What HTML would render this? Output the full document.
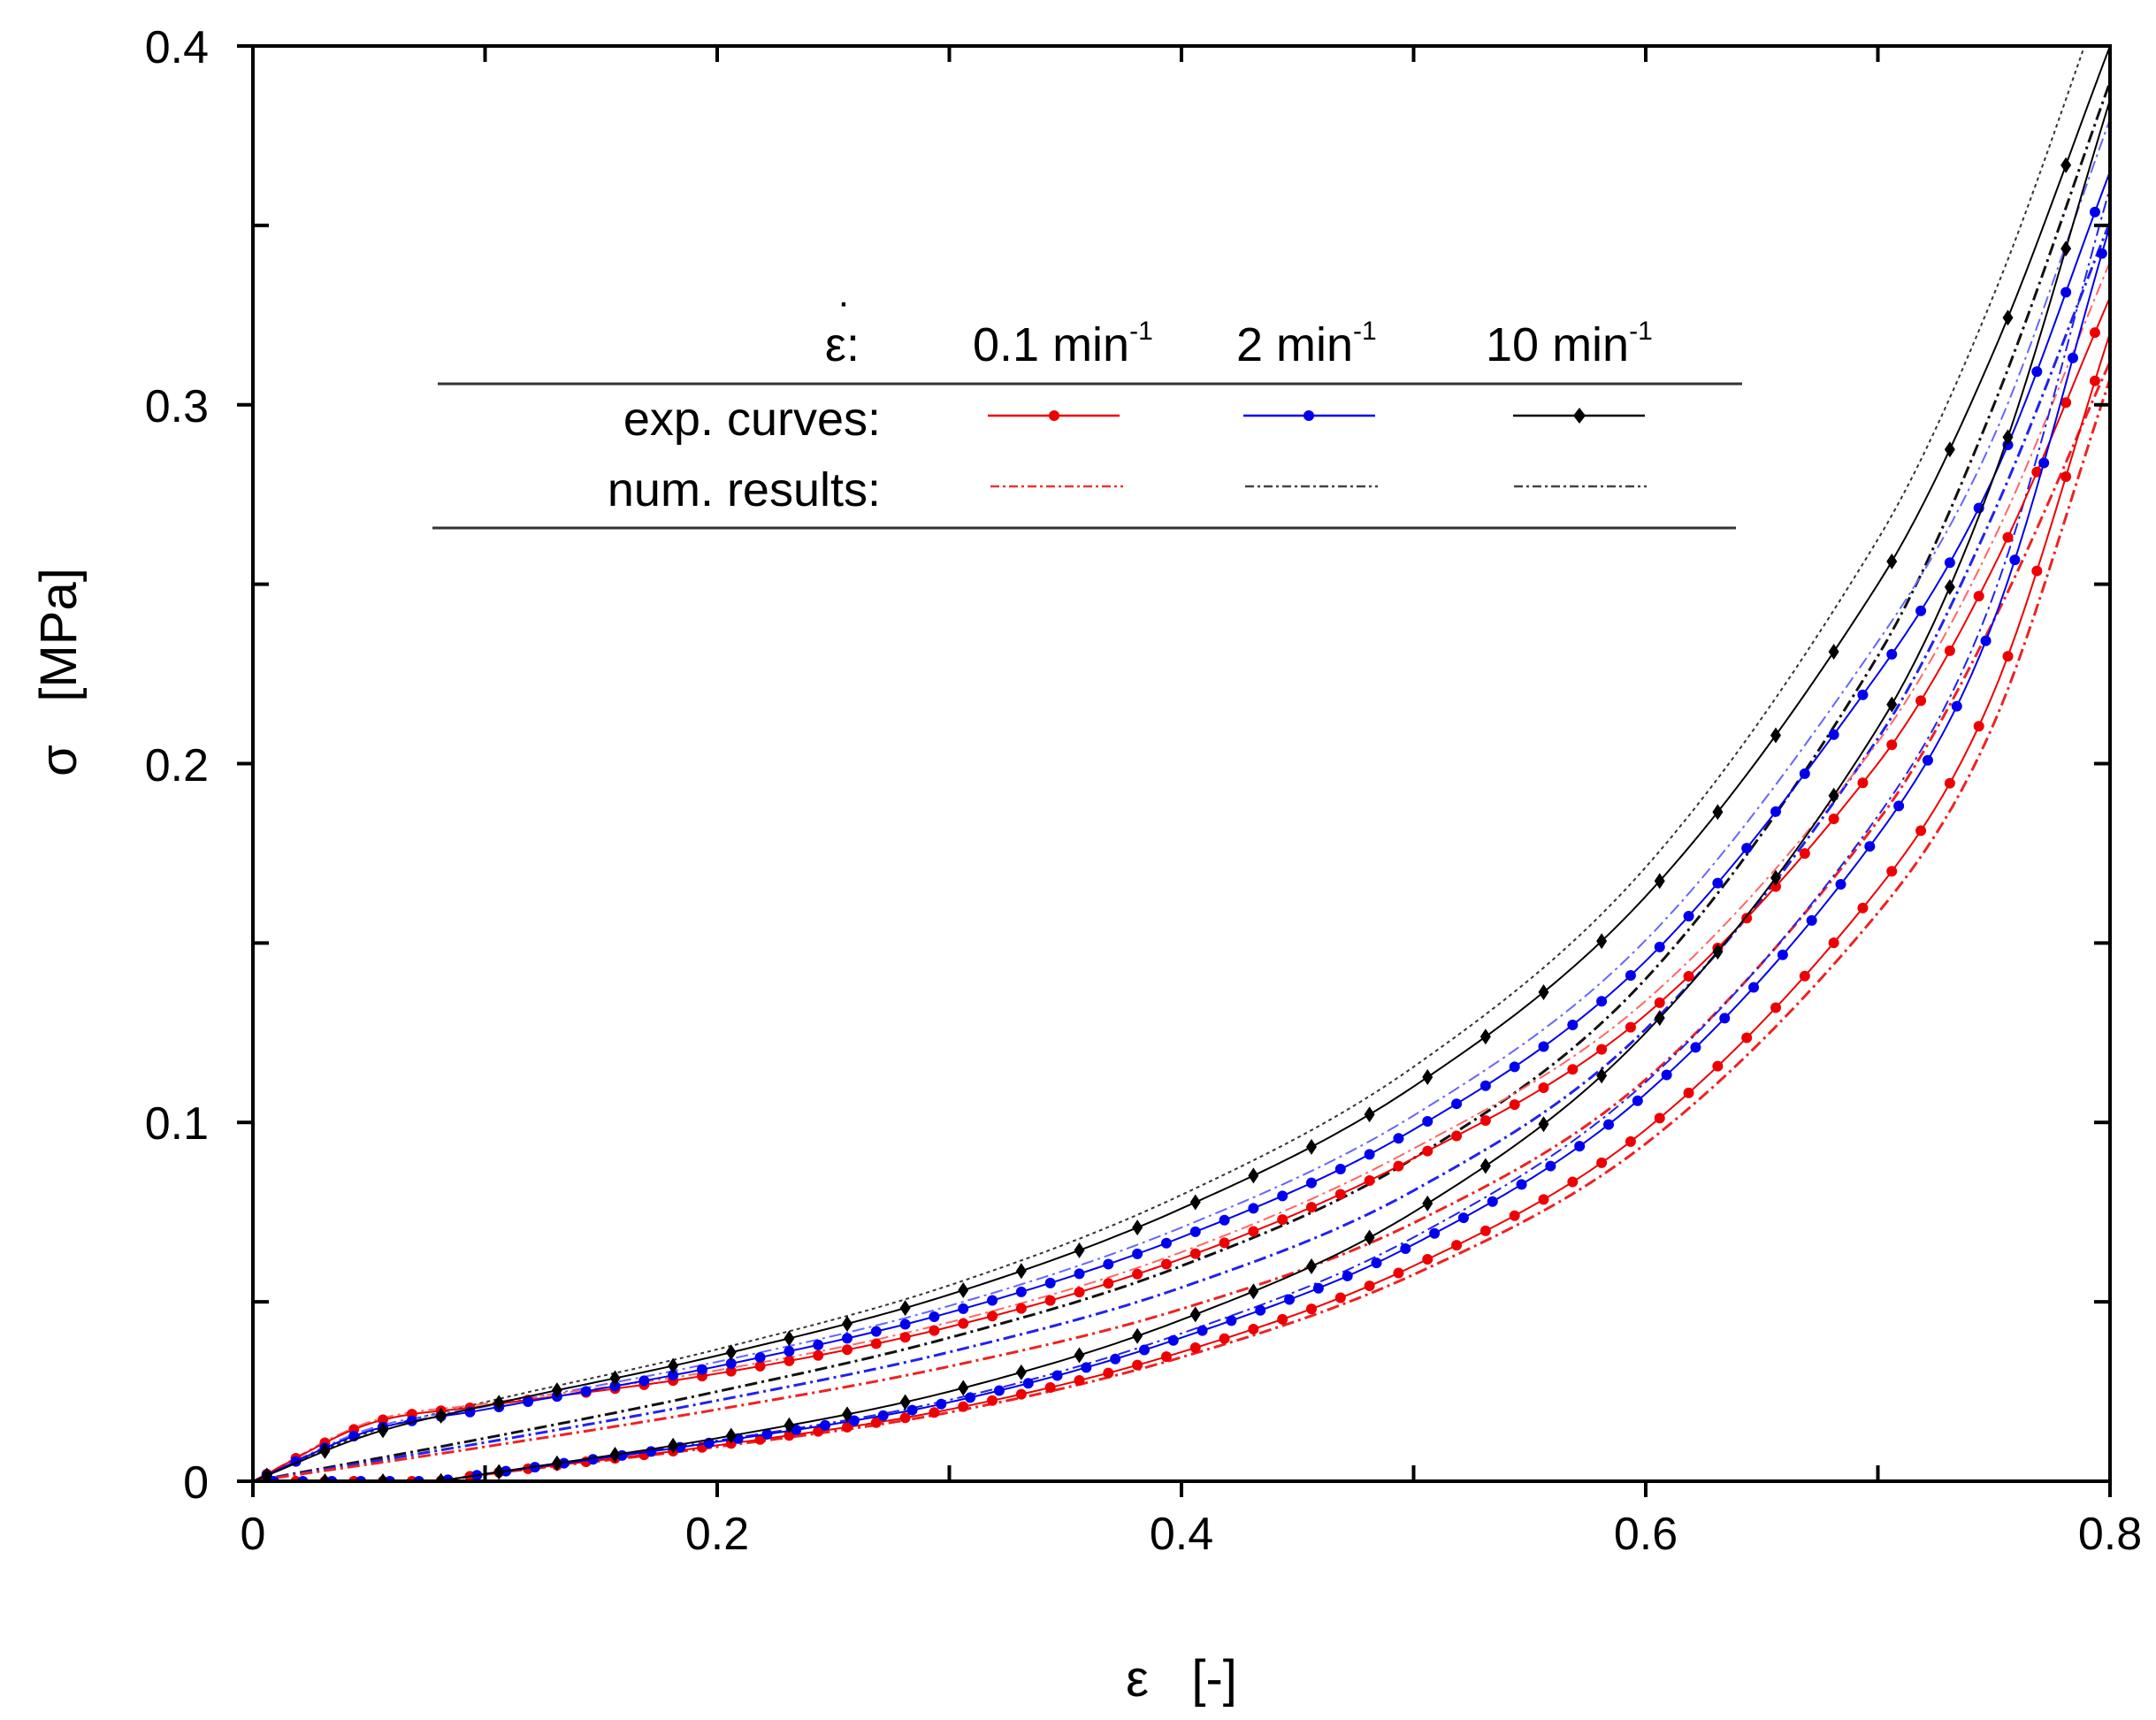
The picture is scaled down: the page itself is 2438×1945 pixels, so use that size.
<!DOCTYPE html>
<html><head><meta charset="utf-8"><style>
html,body{margin:0;padding:0;background:#fff}
svg{display:block}
text{font-family:"Liberation Sans",sans-serif;fill:#000}
</style></head><body>
<svg id="s" width="2438" height="1945" viewBox="0 0 2438 1945" xmlns="http://www.w3.org/2000/svg">
<defs><clipPath id="cp"><rect x="286" y="52" width="2100" height="1623"/></clipPath></defs>
<g id="curves" clip-path="url(#cp)"></g>
<rect x="286" y="52" width="2100" height="1623" fill="none" stroke="#000" stroke-width="4"/>
<g stroke="#000" stroke-width="4" id="ticks"></g>
<g font-size="52" text-anchor="middle">
<text x="286" y="1752">0</text><text x="811" y="1752">0.2</text><text x="1336" y="1752">0.4</text><text x="1861" y="1752">0.6</text><text x="2386" y="1752">0.8</text>
</g>
<g font-size="52" text-anchor="end">
<text x="236" y="1694">0</text><text x="236" y="1288">0.1</text><text x="236" y="883">0.2</text><text x="236" y="477">0.3</text><text x="236" y="71">0.4</text>
</g>
<text x="1336" y="1918" font-size="58" text-anchor="middle">ε&#160;&#160;&#160;[-]</text>
<text transform="translate(86,760) rotate(-90)" font-size="58" text-anchor="middle">σ&#160;&#160;&#160;[MPa]</text>
<!-- legend -->
<g font-size="54">
<text x="972" y="408" text-anchor="end">ε:</text>
<text x="954" y="356" font-size="44" text-anchor="middle">·</text>
<text x="1100" y="408">0.1 min<tspan font-size="30" dy="-24">-1</tspan></text>
<text x="1398" y="408">2 min<tspan font-size="30" dy="-24">-1</tspan></text>
<text x="1680" y="408">10 min<tspan font-size="30" dy="-24">-1</tspan></text>
<text x="996" y="492" text-anchor="end">exp. curves:</text>
<text x="996" y="572" text-anchor="end">num. results:</text>
</g>
<line x1="495" y1="434" x2="1970" y2="434" stroke="#333" stroke-width="3"/>
<line x1="489" y1="597" x2="1963" y2="597" stroke="#333" stroke-width="3"/>
<g stroke-width="2.5">
<line x1="1117" y1="470" x2="1266" y2="470" stroke="#e00"/><circle cx="1192" cy="470" r="6" fill="#e00"/>
<line x1="1406" y1="470" x2="1555" y2="470" stroke="#00e"/><circle cx="1480" cy="470" r="6" fill="#00e"/>
<line x1="1711" y1="470" x2="1860" y2="470" stroke="#000"/><path d="M1786 461 L1793 470 L1786 479 L1779 470Z" fill="#000"/>
<line x1="1120" y1="550" x2="1270" y2="550" stroke="#e33" stroke-dasharray="10 4 3 4"/>
<line x1="1408" y1="550" x2="1558" y2="550" stroke="#444" stroke-dasharray="10 4 3 4"/>
<line x1="1712" y1="550" x2="1862" y2="550" stroke="#444" stroke-dasharray="10 4 3 4"/>
</g>
</svg>
<script>
var NS="http://www.w3.org/2000/svg";
function X(e){return 286+e*2625}
function Y(s){return 1675-s*4057.5}
var tk=document.getElementById("ticks");
function ln(x1,y1,x2,y2,p){var l=document.createElementNS(NS,"line");l.setAttribute("x1",x1);l.setAttribute("y1",y1);l.setAttribute("x2",x2);l.setAttribute("y2",y2);p.appendChild(l);}
for(var i=0;i<=8;i++){var x=X(i*0.1);ln(x,1675,x,i%2?1657:1693,tk);ln(x,52,x,70,tk);}
for(var i=0;i<=8;i++){var y=Y(i*0.05);ln(i%2?286:268,y,i%2?304:286,y,tk);ln(2386,y,2368,y,tk);}
function interp(pts,x){
 for(var i=0;i<pts.length-1;i++){var a=pts[i],b=pts[i+1];if(x<=b[0]){
  var h=b[0]-a[0],t=(x-a[0])/h;
  var m0=i>0?(b[1]-pts[i-1][1])/(b[0]-pts[i-1][0]):(b[1]-a[1])/h;
  var m1=i<pts.length-2?(pts[i+2][1]-a[1])/(pts[i+2][0]-a[0]):(b[1]-a[1])/h;
  var t2=t*t,t3=t2*t;
  return (2*t3-3*t2+1)*a[1]+(t3-2*t2+t)*h*m0+(-2*t3+3*t2)*b[1]+(t3-t2)*h*m1;}}
 return pts[pts.length-1][1];}
var g=document.getElementById("curves");
function curve(pts,color,dash,w,marker,startMarkers){
 var x0=pts[0][0],d="";
 for(var e=x0;e<=0.8001;e+=0.004){d+=(d?"L":"M")+X(e).toFixed(1)+" "+Y(interp(pts,e)).toFixed(1);}
 var p=document.createElementNS(NS,"path");p.setAttribute("d",d);p.setAttribute("fill","none");p.setAttribute("stroke",color);p.setAttribute("stroke-width",w);if(dash)p.setAttribute("stroke-dasharray",dash);g.appendChild(p);
 if(marker){var s0=startMarkers!==undefined?startMarkers:x0;
  for(var e=s0+0.006;e<=0.8;e+=(marker=="d"?0.025:0.0125)){var cx=X(e),cy=Y(e<x0?0:interp(pts,e));
  var m;if(marker=="d"){m=document.createElementNS(NS,"path");m.setAttribute("d","M"+cx+" "+(cy-9)+"L"+(cx+6)+" "+cy+"L"+cx+" "+(cy+9)+"L"+(cx-6)+" "+cy+"Z");}
  else{m=document.createElementNS(NS,"circle");m.setAttribute("cx",cx);m.setAttribute("cy",cy);m.setAttribute("r",6);}
  m.setAttribute("fill",color);g.appendChild(m);}}
}
var bu=[[0,0],[0.05,0.013],[0.1,0.021],[0.2,0.035],[0.3,0.052],[0.4,0.076],[0.5,0.11],[0.6,0.163],[0.7,0.25],[0.75,0.315],[0.8,0.40]];
var bl=[[0.08,0],[0.1,0.002],[0.2,0.012],[0.3,0.025],[0.4,0.045],[0.5,0.075],[0.6,0.125],[0.7,0.21],[0.75,0.28],[0.8,0.385]];
var uu=[[0,0],[0.05,0.014],[0.1,0.02],[0.2,0.032],[0.3,0.047],[0.4,0.068],[0.5,0.098],[0.6,0.145],[0.7,0.225],[0.75,0.28],[0.8,0.365]];
var ul=[[0.08,0],[0.1,0.002],[0.2,0.011],[0.3,0.022],[0.4,0.04],[0.5,0.066],[0.6,0.108],[0.7,0.18],[0.75,0.24],[0.8,0.35]];
var ru=[[0,0],[0.05,0.016],[0.1,0.021],[0.2,0.03],[0.3,0.043],[0.4,0.062],[0.5,0.09],[0.6,0.13],[0.7,0.2],[0.75,0.255],[0.8,0.33]];
var rl=[[0.08,0],[0.1,0.002],[0.2,0.01],[0.3,0.02],[0.4,0.036],[0.5,0.06],[0.6,0.098],[0.7,0.165],[0.75,0.22],[0.8,0.32]];
function sc(p,f){return p.map(function(q){return [q[0],q[1]*f]})}
var bn=[[0,0],[0.1,0.012],[0.2,0.025],[0.3,0.04],[0.4,0.06],[0.5,0.09],[0.6,0.14],[0.7,0.23],[0.75,0.3],[0.8,0.39]];
var dd="14 5 3 5";
curve(sc(bu,1.05),"#333","4 4",2,null);
curve(bn,"#111",dd,3,null);
curve(sc(bn,0.9),"#22e",dd,3,null);
curve(sc(bn,0.8),"#e22",dd,3,null);
curve(sc(uu,1.04),"#66f",dd,2,null);
curve(sc(ru,1.03),"#f66",dd,2,null);
curve(sc(rl,0.96),"#e22",dd,3,null);
curve(sc(ul,1.03),"#22e",dd,2,null);
curve(ru,"#e00",null,2,"c");
curve(rl,"#e00",null,2,"c",0);
curve(uu,"#00e",null,2,"c");
curve(ul,"#00e",null,2,"c",0.003);
curve(bu,"#000",null,2,"d");
curve(bl,"#000",null,2,"d",0);
</script>
</body></html>
